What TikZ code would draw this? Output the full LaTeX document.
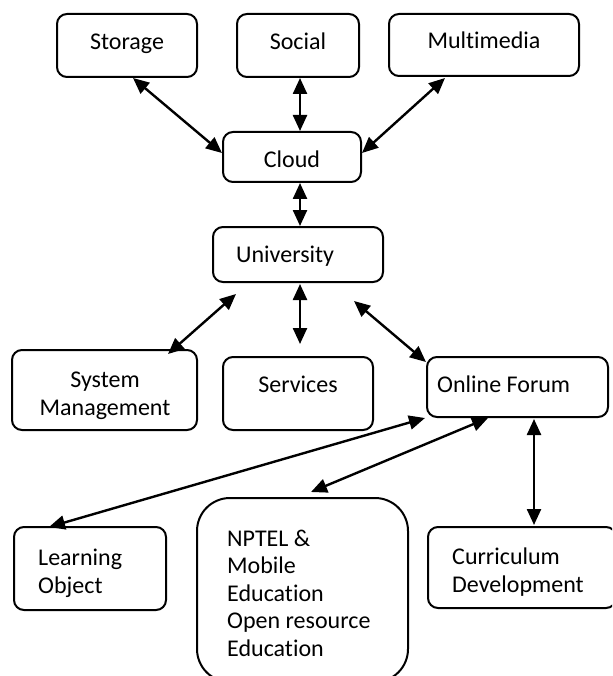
\documentclass[tikz,border=0pt]{standalone}
\usepackage{fontspec}
\setmainfont{Carlito}[Ligatures=NoCommon]
\usetikzlibrary{arrows.meta,calc}

\tikzset{
  box/.style={draw, line width=2pt, rounded corners=10pt, inner sep=0pt},
  label/.style={font=\fontsize{24}{27.5}\selectfont, inner sep=0pt},
  link/.style={line width=2.4pt,
    {Triangle[length=16pt,width=14pt]}-{Triangle[length=16pt,width=14pt]}},
}

\begin{document}
\begin{tikzpicture}[x=1pt,y=-1pt]
  \clip (0,0) rectangle (612,676);
  \fill[white] (0,0) rectangle (612,676);

  % boxes
  \node[box, minimum width=140, minimum height=63] (storage)    at (127,45.5) {};
  \node[box, minimum width=122, minimum height=63] (social)     at (298,45.5) {};
  \node[box, minimum width=190, minimum height=62] (multimedia) at (484,45) {};
  \node[box, minimum width=138, minimum height=50] (cloud)      at (292,157) {};
  \node[box, minimum width=170, minimum height=55] (univ)       at (298,254.5) {};
  \node[box, minimum width=185, minimum height=80] (sysmgmt)    at (104.5,390) {};
  \node[box, minimum width=150, minimum height=73] (services)   at (298,393.5) {};
  \node[box, minimum width=181, minimum height=60] (forum)      at (517.5,387) {};
  \node[box, minimum width=152, minimum height=83] (learning)   at (90,568.5) {};
  \node[box, minimum width=211, minimum height=184, rounded corners=33pt] (nptel) at (302.5,590) {};
  \node[box, minimum width=188, minimum height=81] (curriculum) at (522,567.5) {};

  % texts (multi-line labels are placed by the baseline of their last line)
  \node[label, anchor=base] (storage-t)    at (127,50)  {Storage};
  \node[label, anchor=base] (social-t)     at (298,50)  {Social};
  \node[label, anchor=base] (multimedia-t) at (484,49)  {Multimedia};
  \node[label, anchor=base] (cloud-t)      at (292,168) {Cloud};
  \node[label, anchor=base west] (univ-t)  at (236,262) {University};
  \node[label, anchor=base, align=center] (sysmgmt-t) at (105,415) {System\\Management};
  \node[label, anchor=base] (services-t)   at (298,392) {Services};
  \node[label, anchor=base west] (forum-t) at (437,392) {Online Forum};
  \node[label, anchor=base west, align=left] (learning-t) at (38,593) {Learning\\Object};
  \node[label, anchor=base west, align=left] (nptel-t) at (227,656)
    {NPTEL \&\\Mobile\\Education\\Open resource\\Education};
  \node[label, anchor=base west, align=left] (curriculum-t) at (452,592) {Curriculum\\Development};

  % connectors
  \draw[link] ($(storage.south)+(6,0)$) -- ($(cloud.west)+(0,-4)$);
  \draw[link] ($(social.south)+(2,0)$) -- ($(cloud.north)+(8,0)$);
  \draw[link] ($(multimedia.south west)+(57,1)$) -- ($(cloud.east)+(0,-4)$);
  \draw[link] ($(cloud.south)+(8,0)$) -- ($(univ.north)+(2,0)$);
  \draw[link] ($(univ.south west)+(24,11)$) -- ($(sysmgmt.north east)+(-30,5)$);
  \draw[link] ($(univ.south)+(2,1)$) -- ($(services.north)+(2,-12)$);
  \draw[link] ($(univ.south east)+(-30,18)$) -- ($(forum.north west)+(0,6)$);
  \draw[link] ($(forum.south west)+(-1,0)$) -- ($(learning.north west)+(36,1)$);
  \draw[link] ($(forum.south west)+(62,0)$) -- ($(nptel.north)+(8.5,-5)$);
  \draw[link] ($(forum.south)+(16.5,1)$) -- ($(curriculum.north)+(12,-1)$);
\end{tikzpicture}
\end{document}
